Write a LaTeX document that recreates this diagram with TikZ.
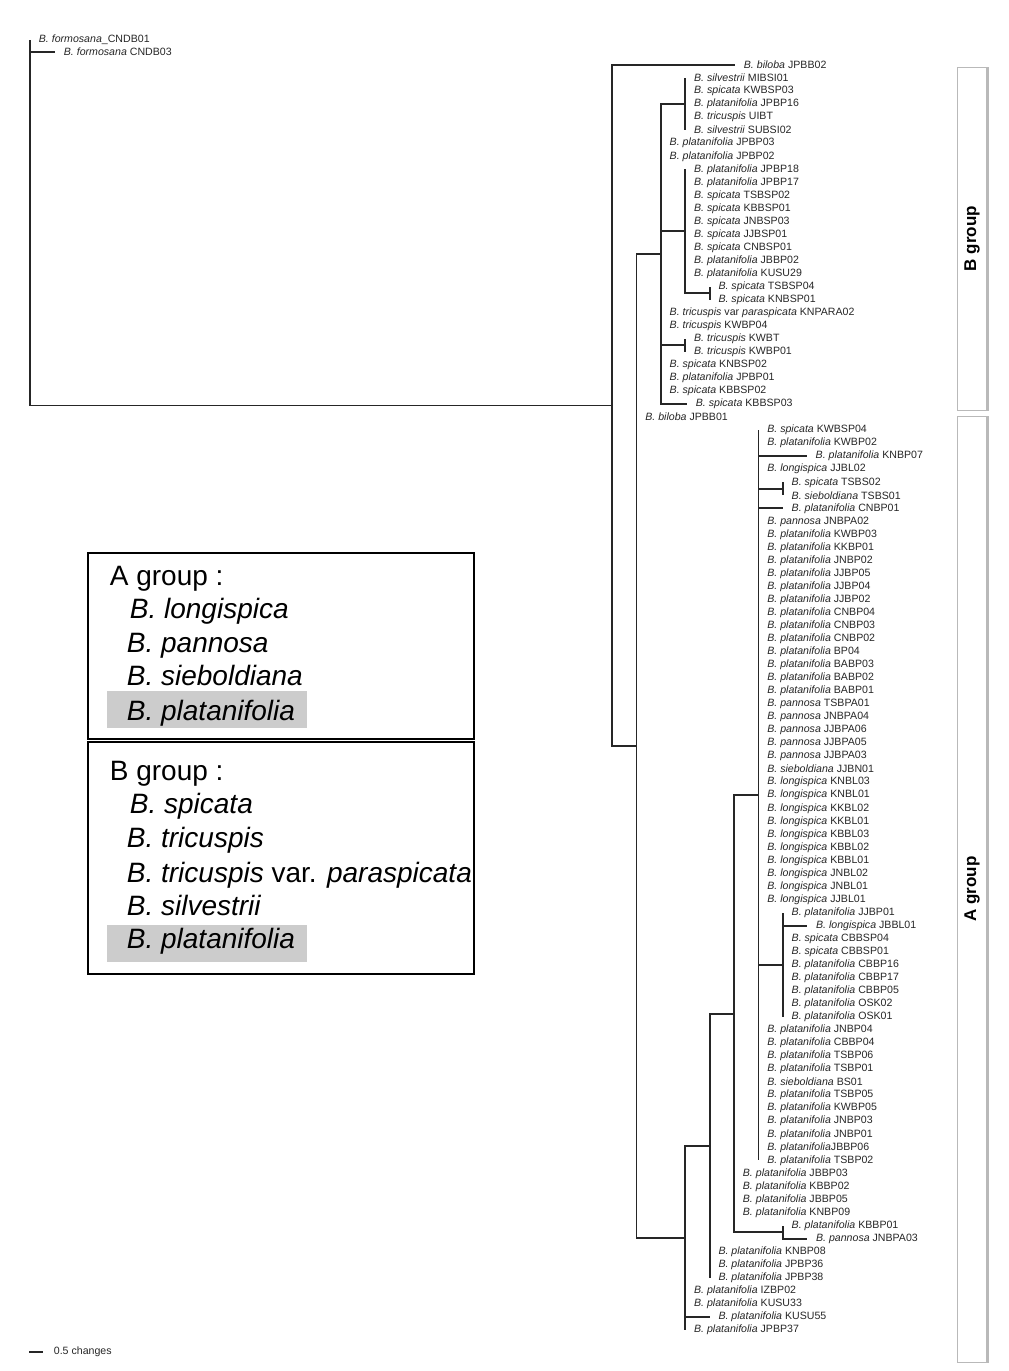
\documentclass[tikz,border=0pt]{standalone}
\usepackage{fontspec}
\setmainfont{Liberation Sans}
\usetikzlibrary{positioning}

\newcommand\bname[1]{\textit{B. #1}}
% tip coordinate, label and branch of one taxon: parent, tip x, row, text
\newcommand\leafrow[4]{%
  \coordinate (t#3) at (#2,{65+13.04*(#3-1)});
  \node[leaf, right=4pt of t#3] (l#3) {#4};
  \draw[branch] (#1) |- (t#3);}

\begin{document}
\begin{tikzpicture}[
    x = 0.5pt, y = -0.5pt, % one unit = one pixel of the figure
    line width = 0.9pt
    ]

    \tikzset{
    leaf/.style = {inner sep = 0pt, text = black!85, font = \fontsize{5.3}{6}\selectfont},
    branch/.style = {draw = black!85},
    legend/.style = {anchor = base west, inner sep = 0pt, font = \fontsize{14}{16}\selectfont},
    hilite/.style = {fill = gray!40},
    groupbox/.style = {draw = gray!55, line width = 0.5pt},
    grouplabel/.style = {rotate = 90, font = \bfseries\fontsize{8.5}{10}\selectfont}
    }
    \useasboundingbox (0,0) rectangle (1008,1371);

    % internal nodes (y given as row numbers)
    \coordinate (root) at (30,222);
    \coordinate (n0) at (612,{65+13.04*26.11});
    \coordinate (n1) at (636.4,{65+13.04*52.22});
    \coordinate (nB) at (660.8,{65+13.04*14.5});
    \coordinate (nB1) at (685.2,{65+13.04*3});
    \coordinate (nB2) at (685.2,{65+13.04*12.75});
    \coordinate (nB2a) at (709.6,{65+13.04*17.5});
    \coordinate (nB3) at (685.2,{65+13.04*21.5});
    \coordinate (nA) at (685.2,{65+13.04*89.94});
    \coordinate (nA6) at (709.6,{65+13.04*82.875});
    \coordinate (nA5) at (734,{65+13.04*72.75});
    \coordinate (nA3) at (758.4,{65+13.04*56});
    \coordinate (nA1) at (782.8,{65+13.04*32.5});
    \coordinate (nA2) at (782.8,{65+13.04*69});
    \coordinate (nA4) at (782.8,{65+13.04*89.5});

    \draw[branch] (root) |- (n0);
    \draw[branch] (n0) |- (n1);
    \draw[branch] (n1) |- (nB);
    \draw[branch] (n1) |- (nA);
    \draw[branch] (nB) |- (nB1);
    \draw[branch] (nB) |- (nB2);
    \draw[branch] (nB2) |- (nB2a);
    \draw[branch] (nB) |- (nB3);
    \draw[branch] (nA) |- (nA6);
    \draw[branch] (nA6) |- (nA5);
    \draw[branch] (nA5) |- (nA3);
    \draw[branch] (nA3) |- (nA1);
    \draw[branch] (nA3) |- (nA2);
    \draw[branch] (nA5) |- (nA4);

    % outgroup
    \coordinate (f1) at (30,40);
    \coordinate (f2) at (55,52);
    \node[leaf, right=4pt of f1] (lf1) {\bname{formosana}\_CNDB01};
    \node[leaf, right=4pt of f2] (lf2) {\bname{formosana} CNDB03};
    \draw[branch] (root) |- (f1);
    \draw[branch] (root) |- (f2);

    % B group
    \leafrow{n0}{735}{1}{\bname{biloba} JPBB02}
    \foreach \r/\t in {2/\bname{silvestrii} MIBSI01, 3/\bname{spicata} KWBSP03,
        4/\bname{platanifolia} JPBP16, 5/\bname{tricuspis} UIBT, 6/\bname{silvestrii} SUBSI02}
        {\leafrow{nB1}{685.2}{\r}{\t}}
    \foreach \r/\t in {7/\bname{platanifolia} JPBP03, 8/\bname{platanifolia} JPBP02,
        20/\bname{tricuspis} var \textit{paraspicata} KNPARA02, 21/\bname{tricuspis} KWBP04,
        24/\bname{spicata} KNBSP02, 25/\bname{platanifolia} JPBP01, 26/\bname{spicata} KBBSP02}
        {\leafrow{nB}{660.8}{\r}{\t}}
    \leafrow{nB}{687}{27}{\bname{spicata} KBBSP03}
    \foreach \r/\t in {9/\bname{platanifolia} JPBP18, 10/\bname{platanifolia} JPBP17,
        11/\bname{spicata} TSBSP02, 12/\bname{spicata} KBBSP01, 13/\bname{spicata} JNBSP03,
        14/\bname{spicata} JJBSP01, 15/\bname{spicata} CNBSP01, 16/\bname{platanifolia} JBBP02,
        17/\bname{platanifolia} KUSU29}
        {\leafrow{nB2}{685.2}{\r}{\t}}
    \foreach \r/\t in {18/\bname{spicata} TSBSP04, 19/\bname{spicata} KNBSP01}
        {\leafrow{nB2a}{709.6}{\r}{\t}}
    \foreach \r/\t in {22/\bname{tricuspis} KWBT, 23/\bname{tricuspis} KWBP01}
        {\leafrow{nB3}{685.2}{\r}{\t}}
    \leafrow{n1}{636.4}{28}{\bname{biloba} JPBB01}

    % A group
    \foreach \r/\t in {29/\bname{spicata} KWBSP04, 30/\bname{platanifolia} KWBP02,
        32/\bname{longispica} JJBL02, 36/\bname{pannosa} JNBPA02,
        37/\bname{platanifolia} KWBP03, 38/\bname{platanifolia} KKBP01,
        39/\bname{platanifolia} JNBP02, 40/\bname{platanifolia} JJBP05,
        41/\bname{platanifolia} JJBP04, 42/\bname{platanifolia} JJBP02,
        43/\bname{platanifolia} CNBP04, 44/\bname{platanifolia} CNBP03,
        45/\bname{platanifolia} CNBP02, 46/\bname{platanifolia} BP04,
        47/\bname{platanifolia} BABP03, 48/\bname{platanifolia} BABP02,
        49/\bname{platanifolia} BABP01, 50/\bname{pannosa} TSBPA01,
        51/\bname{pannosa} JNBPA04, 52/\bname{pannosa} JJBPA06,
        53/\bname{pannosa} JJBPA05, 54/\bname{pannosa} JJBPA03,
        55/\bname{sieboldiana} JJBN01, 56/\bname{longispica} KNBL03,
        57/\bname{longispica} KNBL01, 58/\bname{longispica} KKBL02,
        59/\bname{longispica} KKBL01, 60/\bname{longispica} KBBL03,
        61/\bname{longispica} KBBL02, 62/\bname{longispica} KBBL01,
        63/\bname{longispica} JNBL02, 64/\bname{longispica} JNBL01,
        65/\bname{longispica} JJBL01, 75/\bname{platanifolia} JNBP04,
        76/\bname{platanifolia} CBBP04, 77/\bname{platanifolia} TSBP06,
        78/\bname{platanifolia} TSBP01, 79/\bname{sieboldiana} BS01,
        80/\bname{platanifolia} TSBP05, 81/\bname{platanifolia} KWBP05,
        82/\bname{platanifolia} JNBP03, 83/\bname{platanifolia} JNBP01,
        84/\bname{platanifolia}JBBP06, 85/\bname{platanifolia} TSBP02}
        {\leafrow{nA3}{758.4}{\r}{\t}}
    \leafrow{nA3}{806.8}{31}{\bname{platanifolia} KNBP07}
    \leafrow{nA3}{782.8}{35}{\bname{platanifolia} CNBP01}
    \foreach \r/\t in {33/\bname{spicata} TSBS02, 34/\bname{sieboldiana} TSBS01}
        {\leafrow{nA1}{782.8}{\r}{\t}}
    \foreach \r/\t in {66/\bname{platanifolia} JJBP01, 68/\bname{spicata} CBBSP04,
        69/\bname{spicata} CBBSP01, 70/\bname{platanifolia} CBBP16,
        71/\bname{platanifolia} CBBP17, 72/\bname{platanifolia} CBBP05,
        73/\bname{platanifolia} OSK02, 74/\bname{platanifolia} OSK01}
        {\leafrow{nA2}{782.8}{\r}{\t}}
    \leafrow{nA2}{807.2}{67}{\bname{longispica} JBBL01}
    \foreach \r/\t in {86/\bname{platanifolia} JBBP03, 87/\bname{platanifolia} KBBP02,
        88/\bname{platanifolia} JBBP05, 89/\bname{platanifolia} KNBP09}
        {\leafrow{nA5}{734}{\r}{\t}}
    \leafrow{nA4}{782.8}{90}{\bname{platanifolia} KBBP01}
    \leafrow{nA4}{807.2}{91}{\bname{pannosa} JNBPA03}
    \foreach \r/\t in {92/\bname{platanifolia} KNBP08, 93/\bname{platanifolia} JPBP36,
        94/\bname{platanifolia} JPBP38}
        {\leafrow{nA6}{709.6}{\r}{\t}}
    \foreach \r/\t in {95/\bname{platanifolia} IZBP02, 96/\bname{platanifolia} KUSU33,
        98/\bname{platanifolia} JPBP37}
        {\leafrow{nA}{685.2}{\r}{\t}}
    \leafrow{nA}{709.6}{97}{\bname{platanifolia} KUSU55}

    % group bars on the right
    \draw[groupbox] (957,67) rectangle (988,410);
    \draw[gray!55, line width = 1.5pt] (987,67) -- (987,410);
    \node[grouplabel] (gB) at (972,238.5) {B group};
    \draw[groupbox] (957,416) rectangle (988,1362);
    \draw[gray!55, line width = 1.5pt] (987,416) -- (987,1362);
    \node[grouplabel] (gA) at (972,889) {A group};

    % legend
    \draw[line width = 0.8pt] (88,553) rectangle (474,739);
    \draw[line width = 0.8pt] (88,742) rectangle (474,974);
    \fill[hilite] (107,691) rectangle (307,728);
    \fill[hilite] (107,925) rectangle (307,962);
    \node[legend] (hA) at (109,585) {A group :};
    \node[legend] (a1) at (129,618) {\bname{longispica}};
    \node[legend] (a2) at (126,652) {\bname{pannosa}};
    \node[legend] (a3) at (126,685) {\bname{sieboldiana}};
    \node[legend] (a4) at (126,720) {\bname{platanifolia}};
    \node[legend] (hB) at (109,780) {B group :};
    \node[legend] (b1) at (129,813) {\bname{spicata}};
    \node[legend] (b2) at (126,847) {\bname{tricuspis}};
    \node[legend] (b3) at (126,882) {\bname{tricuspis} var. \textit{paraspicata}};
    \node[legend] (b4) at (126,915) {\bname{silvestrii}};
    \node[legend] (b5) at (126,948) {\bname{platanifolia}};

    % scale bar
    \coordinate (s0) at (29,1352);
    \coordinate (s1) at (43,1352);
    \draw[branch] (s0) -- (s1);
    \node[leaf, right=5pt of s1] (sc) {0.5 changes};
\end{tikzpicture}
\end{document}
